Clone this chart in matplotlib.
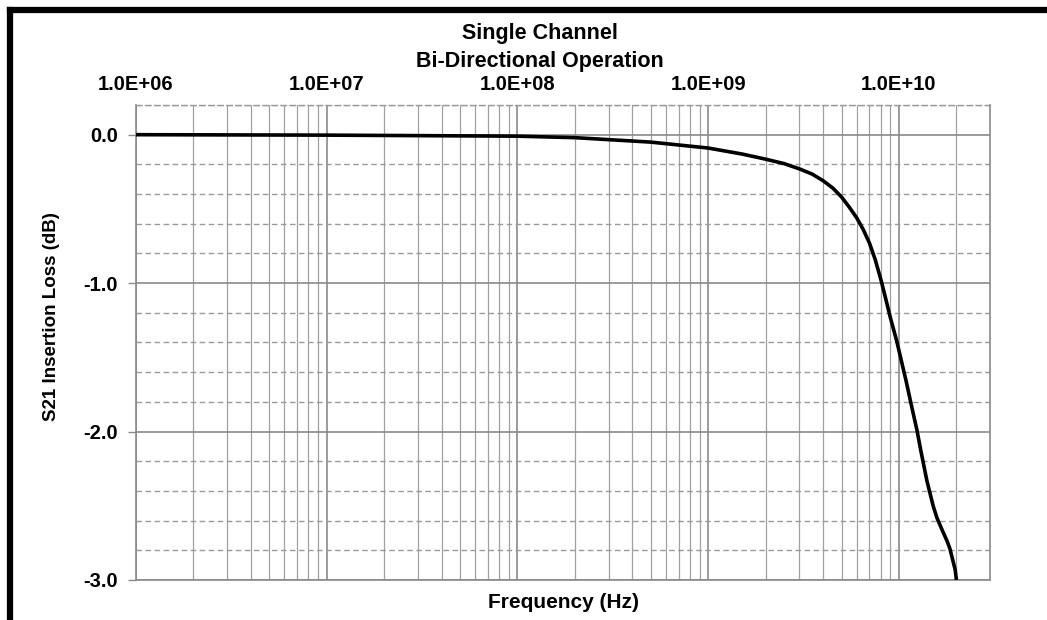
import numpy as np
import matplotlib.pyplot as plt
from matplotlib.ticker import FixedLocator, NullFormatter
from matplotlib.lines import Line2D

plt.rcParams['font.family'] = ['Liberation Sans', 'DejaVu Sans']

# Datos (frecuencia en Hz, perdida en dB)
freq = [1e6, 1e7, 1e8, 2e8, 5e8, 1e9, 1.5e9, 2e9, 2.5e9, 3e9, 3.5e9, 4e9,
        4.5e9, 5e9, 5.5e9, 6e9, 6.5e9, 7e9, 7.5e9, 8.05e9, 8.5e9, 9e9, 9.73e9,
        1.09e10, 1.16e10, 1.242e10, 1.3e10, 1.4e10, 1.51e10, 1.58e10, 1.66e10,
        1.72e10, 1.79e10, 1.85e10, 1.9e10, 1.97e10, 2e10]
s21 = [0.0, -0.003, -0.01, -0.02, -0.05, -0.09, -0.13, -0.165, -0.195, -0.23,
       -0.265, -0.31, -0.36, -0.42, -0.49, -0.56, -0.64, -0.73, -0.84, -0.98,
       -1.1, -1.23, -1.39, -1.66, -1.82, -1.99, -2.125, -2.33, -2.5, -2.58,
       -2.645, -2.69, -2.74, -2.79, -2.85, -2.93, -3.0]

x_ticks = [1e6, 1e7, 1e8, 1e9, 1e10]
x_labels = ['1.0E+06', '1.0E+07', '1.0E+08', '1.0E+09', '1.0E+10']
y_ticks = [0.0, -1.0, -2.0, -3.0]
y_labels = ['0.0', '-1.0', '-2.0', '-3.0']

fig = plt.figure(figsize=(10.47, 6.2), dpi=100)
ax = fig.add_axes([136 / 1047, 1 - 580 / 620, (990 - 136) / 1047, (580 - 105) / 620])

ax.set_xscale('log')
ax.set_xlim(1e6, 3e10)
ax.set_ylim(-3.0, 0.2)

# rejilla manual
minor_x = [m * 10.0 ** e for e in range(6, 11) for m in range(2, 10) if m * 10.0 ** e < 3e10]
for xv in minor_x:
    ax.axvline(xv, color='#a0a0a0', lw=0.9, zorder=1)
for xv in x_ticks:
    ax.axvline(xv, color='#8a8a8a', lw=1.2, zorder=1)
for yv in np.arange(-2.8, 0.21, 0.2):
    if abs(yv - round(yv)) > 0.05:
        ax.axhline(yv, color='#9a9a9a', lw=1.0, ls=(0, (4, 2.5)), zorder=1)
for yv in y_ticks:
    ax.axhline(yv, color='#8a8a8a', lw=1.2, zorder=1)

ax.plot(freq, s21, color='black', lw=2.6, zorder=3, solid_capstyle='butt',
        solid_joinstyle='round')

ax.xaxis.set_major_locator(FixedLocator(x_ticks))
ax.xaxis.set_minor_formatter(NullFormatter())
ax.set_xticks([], minor=True)
ax.set_xticklabels(x_labels)
ax.xaxis.tick_top()
ax.tick_params(axis='x', length=0, pad=8, labelsize=14.5)
ax.set_yticks(y_ticks)
ax.set_yticklabels(y_labels)
ax.tick_params(axis='y', length=6, width=1, color='#8a8a8a', pad=7, labelsize=14.5)
for lab in ax.get_xticklabels() + ax.get_yticklabels():
    lab.set_fontweight('bold')

for side in ['left', 'bottom', 'right']:
    ax.spines[side].set_color('#8a8a8a')
    ax.spines[side].set_linewidth(1.2)
ax.spines['top'].set_color('#9a9a9a')
ax.spines['top'].set_linestyle((0, (4, 2.5)))
ax.spines['top'].set_linewidth(1.0)

ax.set_xlabel('Frequency (Hz)', fontsize=15, fontweight='bold', labelpad=9)
ax.set_ylabel('S21 Insertion Loss (dB)', fontsize=13.5, fontweight='bold')
ax.yaxis.set_label_coords((60 - 136) / 854, (580 - 317) / 475)

fig.text(540 / 1047, 1 - 39 / 620, 'Single Channel', ha='center', va='baseline',
         fontsize=15.5, fontweight='bold')
fig.text(540 / 1047, 1 - 67 / 620, 'Bi-Directional Operation', ha='center', va='baseline',
         fontsize=15.5, fontweight='bold')

# marco negro arriba y a la izquierda
fig.add_artist(Line2D([9.5 / 1047, 1.0], [1 - 9.5 / 620, 1 - 9.5 / 620],
                      transform=fig.transFigure, color='black', lw=4.5))
fig.add_artist(Line2D([9.5 / 1047, 9.5 / 1047], [0.0, 1 - 9.5 / 620],
                      transform=fig.transFigure, color='black', lw=4.5))

fig.savefig('out.png', dpi=100)
